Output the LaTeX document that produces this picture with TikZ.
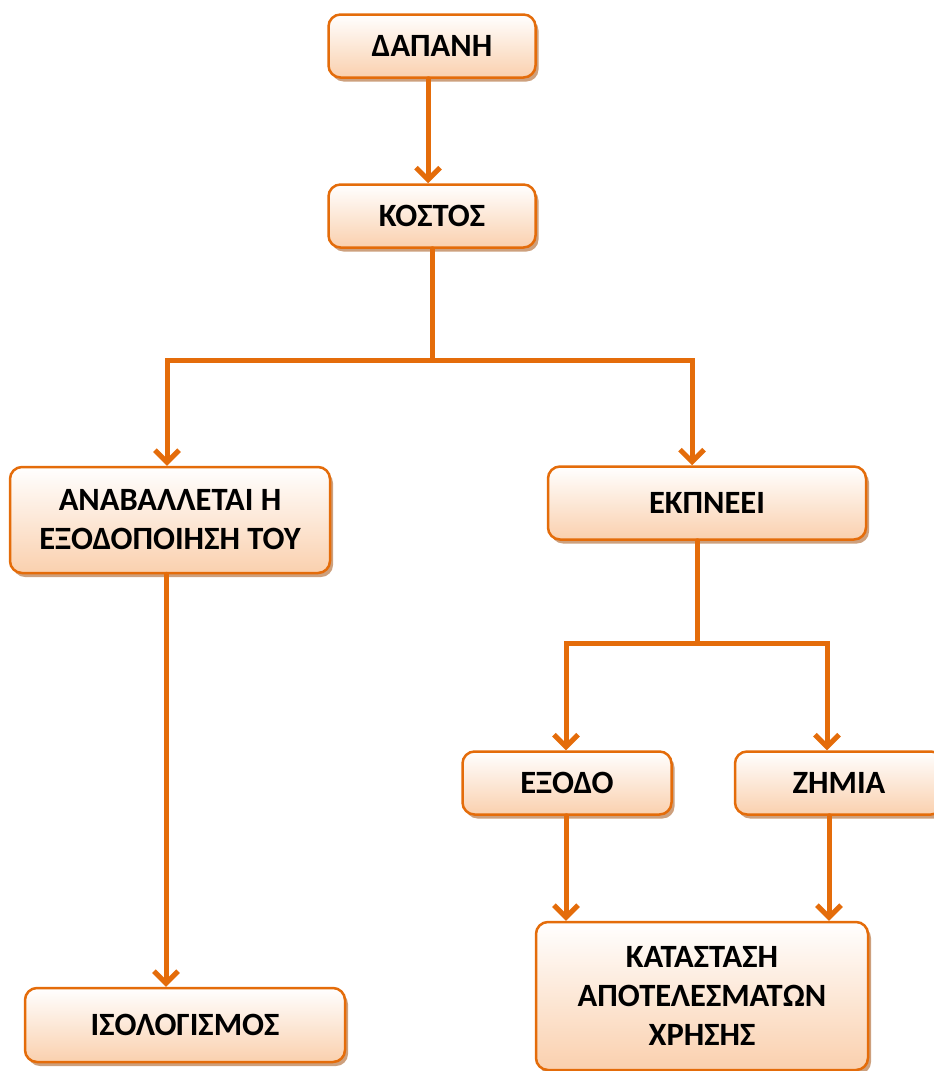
\documentclass[tikz,border=0pt]{standalone}
\usepackage{fontspec}
\setmainfont{Carlito}
\usepackage{tikz}
\usetikzlibrary{arrows.meta}
\usetikzlibrary{shadows}
\usepackage{xcolor}
\definecolor{boxorange}{RGB}{228,108,10}
\definecolor{boxpeach}{RGB}{250,208,174}
\definecolor{boxshadow}{RGB}{205,160,125}

\begin{document}
\begin{tikzpicture}[x=1pt, y=-1pt, >={Straight Barb[length=12pt,width=24pt]},
      box/.style={draw=boxorange, line width=2.5pt, rounded corners=12pt,
        top color=white, bottom color=boxpeach,
        drop shadow={shadow xshift=3pt, shadow yshift=-4pt, fill=boxshadow, opacity=1},
        align=center, inner sep=0pt, font=\bfseries\fontsize{32.5}{39}\selectfont},
      flow/.style={boxorange, line width=5pt, line cap=round}]
      \useasboundingbox (0,0) rectangle (934,1071);
      \clip (0,0) rectangle (934,1071);
      % Boxes
      \node[box, minimum width=207pt, minimum height=63pt] (dapani) at (432,46) {ΔΑΠΑΝΗ};
      \node[box, minimum width=207pt, minimum height=63pt] (kostos) at (432,216) {ΚΟΣΤΟΣ};
      \node[box, minimum width=320pt, minimum height=106pt] (anavalletai) at (170,520)
        {ΑΝΑΒΑΛΛΕΤΑΙ Η\\ΕΞΟΔΟΠΟΙΗΣΗ ΤΟΥ};
      \node[box, minimum width=318pt, minimum height=73pt] (ekpneei) at (707,503) {ΕΚΠΝΕΕΙ};
      \node[box, minimum width=209pt, minimum height=63pt] (exodo) at (567,783) {ΈΞΟΔΟ};
      \node[box, minimum width=208pt, minimum height=63pt] (zimia) at (839,783) {ΖΗΜΙΑ};
      \node[box, minimum width=332pt, minimum height=148pt] (katastasi) at (702,996)
        {ΚΑΤΑΣΤΑΣΗ\\ΑΠΟΤΕΛΕΣΜΑΤΩΝ\\ΧΡΗΣΗΣ};
      \node[box, minimum width=320pt, minimum height=74pt] (isologismos) at (185,1025) {ΙΣΟΛΟΓΙΣΜΟΣ};
      % Split points
      \coordinate (split1) at (432,360);
      \coordinate (split2) at (697,643);
      % Arrows
      \draw[flow, ->] ([xshift=-4pt]dapani.south) -- ([xshift=-4pt]kostos.north);
      \draw[flow] (kostos.south) -- (split1);
      \draw[flow, ->] (split1) -| ([xshift=-3pt]anavalletai.north);
      \draw[flow, ->] (split1) -| ([xshift=-15pt]ekpneei.north);
      \draw[flow, ->] ([xshift=-4pt]anavalletai.south) -- ([xshift=-19pt]isologismos.north);
      \draw[flow] ([xshift=-10pt]ekpneei.south) -- (split2);
      \draw[flow, ->] (split2) -| ([xshift=-1pt]exodo.north);
      \draw[flow, ->] (split2) -| ([xshift=-12pt]zimia.north);
      \draw[flow, ->] ([xshift=-1pt]exodo.south) -- ([xshift=-1pt]exodo.south |- katastasi.north);
      \draw[flow, ->] ([xshift=-10pt]zimia.south) -- ([xshift=-10pt]zimia.south |- katastasi.north);
\end{tikzpicture}
\end{document}
